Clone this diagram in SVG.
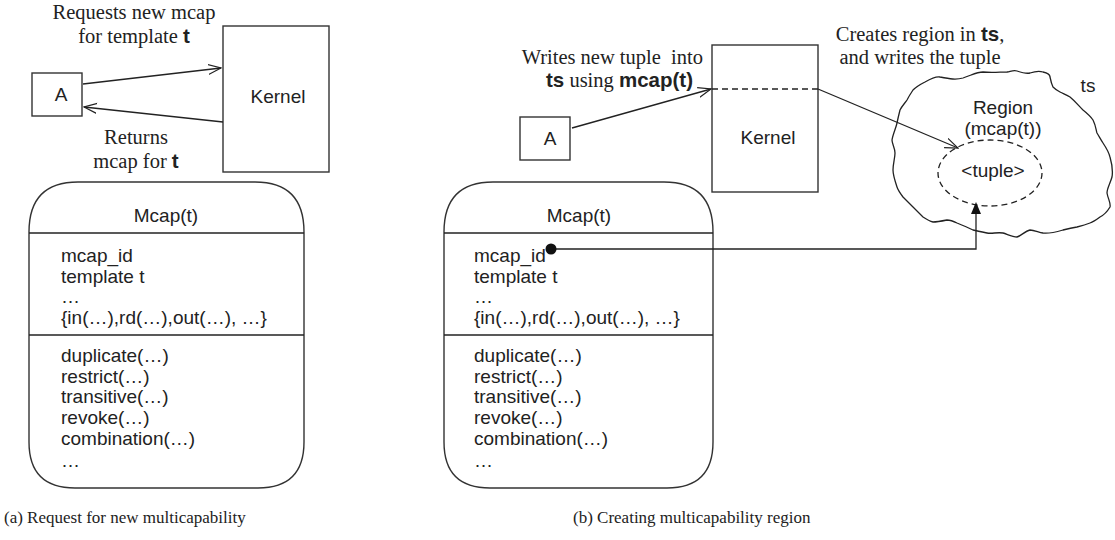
<svg xmlns="http://www.w3.org/2000/svg" width="1115" height="540" viewBox="0 0 1115 540">
<defs>
<marker id="open" viewBox="0 0 14 12" refX="13" refY="6" markerWidth="14" markerHeight="12" markerUnits="userSpaceOnUse" orient="auto">
<path d="M0,1 L13,6 L0,11" fill="none" stroke="#222" stroke-width="1.2"/>
</marker>
</defs>
<style>
.box{fill:#fff;stroke:#333;stroke-width:1.4}
.ln{fill:none;stroke:#222;stroke-width:1.3}
.sans{font-family:"Liberation Sans",Arial,sans-serif;font-size:19px;fill:#222}
.serif{font-family:"Liberation Serif","Times New Roman",serif;font-size:20.5px;fill:#222}
.cap{font-family:"Liberation Serif","Times New Roman",serif;font-size:17px;fill:#222}
.b{font-family:"Liberation Sans",Arial,sans-serif;font-weight:bold}
.dash{fill:none;stroke:#222;stroke-width:1.3;stroke-dasharray:6,4}
</style>

<!-- (a) -->
<g id="a-A">
<rect class="box" x="32" y="73" width="50" height="43"/>
<text class="sans" x="61" y="101" text-anchor="middle">A</text>
</g>
<g id="a-kernel">
<rect class="box" x="223" y="26" width="106" height="146"/>
<text class="sans" x="278" y="103" text-anchor="middle">Kernel</text>
</g>
<g id="a-mcap">
<path class="box" d="M78,182 L255,182 Q304,182 304,232 L304,442 Q304,488 258,488 L75,488 Q29,488 29,442 L29,232 Q29,182 78,182 Z"/>
<line class="ln" x1="29" y1="233" x2="304" y2="233"/>
<line class="ln" x1="29" y1="335" x2="304" y2="335"/>
<text class="sans" x="166" y="222" text-anchor="middle">Mcap(t)</text>
<text class="sans" x="61" y="262">mcap_id</text>
<text class="sans" x="61" y="283">template t</text>
<text class="sans" x="61" y="303">…</text>
<text class="sans" x="61" y="324">{in(…),rd(…),out(…), …}</text>
<text class="sans" x="61" y="362">duplicate(…)</text>
<text class="sans" x="61" y="383">restrict(…)</text>
<text class="sans" x="61" y="403">transitive(…)</text>
<text class="sans" x="61" y="424">revoke(…)</text>
<text class="sans" x="61" y="445">combination(…)</text>
<text class="sans" x="61" y="467">…</text>
</g>

<!-- (b) -->
<g id="b-A">
<rect class="box" x="520" y="117" width="50" height="43"/>
<text class="sans" x="550" y="145" text-anchor="middle">A</text>
</g>
<g id="b-kernel">
<rect class="box" x="712" y="45" width="106" height="147"/>
<line class="dash" x1="712" y1="89" x2="818" y2="89"/>
<text class="sans" x="768" y="144" text-anchor="middle">Kernel</text>
</g>
<g id="b-mcap">
<path class="box" d="M493,182 L664,182 Q713,182 713,232 L713,442 Q713,488 667,488 L490,488 Q444,488 444,442 L444,232 Q444,182 493,182 Z"/>
<line class="ln" x1="444" y1="233" x2="713" y2="233"/>
<line class="ln" x1="444" y1="335" x2="713" y2="335"/>
<text class="sans" x="579" y="222" text-anchor="middle">Mcap(t)</text>
<text class="sans" x="474" y="262">mcap_id</text>
<text class="sans" x="474" y="283">template t</text>
<text class="sans" x="474" y="303">…</text>
<text class="sans" x="474" y="324">{in(…),rd(…),out(…), …}</text>
<text class="sans" x="474" y="362">duplicate(…)</text>
<text class="sans" x="474" y="383">restrict(…)</text>
<text class="sans" x="474" y="403">transitive(…)</text>
<text class="sans" x="474" y="424">revoke(…)</text>
<text class="sans" x="474" y="445">combination(…)</text>
<text class="sans" x="474" y="467">…</text>
</g>
<g id="b-ts">
<path class="ln" d="M925,82 C932,78 936,76 940,77 C950,79 956,80 963,78 C972,75 977,72 983,72 C992,73 1000,72 1007,72 C1012,71 1014,70 1017,71 C1023,73 1026,74 1030,73 C1036,71 1040,71 1043,72 C1048,73 1050,75 1050,77 C1051,82 1052,85 1053,87 C1056,90 1058,91 1060,92 C1064,94 1067,95 1070,97 C1076,102 1079,106 1083,110 C1088,114 1091,117 1093,120 C1096,126 1096,130 1097,133 C1100,138 1101,140 1103,143 C1107,149 1109,153 1110,157 C1112,164 1113,171 1112,177 C1110,184 1107,188 1107,193 C1108,199 1111,203 1110,207 C1107,212 1104,215 1100,217 C1096,220 1093,222 1090,223 C1085,225 1081,226 1077,227 C1071,228 1067,229 1063,230 C1056,232 1049,234 1043,233 C1038,232 1034,230 1030,230 C1025,231 1021,236 1017,237 C1012,237 1007,234 1003,233 C997,232 992,234 987,233 C982,232 977,231 973,230 C967,227 962,225 957,223 C953,221 950,220 947,220 C942,221 937,222 933,222 C929,221 926,219 923,217 C919,213 916,210 913,207 C909,203 906,200 903,197 C900,193 898,190 897,187 C895,181 893,175 893,170 C893,164 895,158 895,153 C895,148 892,144 892,140 C893,134 896,128 897,123 C898,118 899,114 900,110 C902,106 905,103 907,100 C909,96 911,93 913,90 C917,86 921,84 925,82 Z"/>
<text class="sans" x="1088" y="92" text-anchor="middle">ts</text>
</g>
<g id="b-region">
<text class="sans" x="1003" y="114" text-anchor="middle">Region</text>
<text class="sans" x="1003" y="135" text-anchor="middle">(mcap(t))</text>
<ellipse class="dash" cx="990" cy="173" rx="52" ry="33" stroke-dasharray="9,5"/>
<text class="sans" x="993" y="177" text-anchor="middle">&lt;tuple&gt;</text>
</g>

<g id="connectors">
<line class="ln" x1="83" y1="84" x2="221" y2="68" marker-end="url(#open)"/>
<line class="ln" x1="223" y1="122" x2="84" y2="107" marker-end="url(#open)"/>
<line class="ln" x1="572" y1="128" x2="711" y2="89" marker-end="url(#open)"/>
<line class="ln" x1="818" y1="89" x2="958" y2="148" marker-end="url(#open)"/>
<polyline class="ln" points="551,249 976,249 976,212"/>
<path d="M976,202 L981,214 L971,214 Z" fill="#111"/>
<circle cx="551" cy="249" r="5.5" fill="#111"/>
</g>

<g id="labels">
<text class="serif" x="134" y="19" text-anchor="middle">Requests new mcap</text>
<text class="serif" x="134" y="43" text-anchor="middle">for template <tspan class="b">t</tspan></text>
<text class="serif" x="136" y="144" text-anchor="middle">Returns</text>
<text class="serif" x="136" y="168" text-anchor="middle">mcap for <tspan class="b">t</tspan></text>
<text class="serif" x="703" y="64" text-anchor="end" xml:space="preserve">Writes new tuple  into</text>
<text class="serif" x="693" y="87" text-anchor="end"><tspan class="b">ts</tspan> using <tspan class="b">mcap(t)</tspan></text>
<text class="serif" x="920" y="41" text-anchor="middle">Creates region in <tspan class="b">ts</tspan>,</text>
<text class="serif" x="920" y="64" text-anchor="middle">and writes the tuple</text>
<text class="cap" x="4" y="523">(a) Request for new multicapability</text>
<text class="cap" x="573" y="523">(b) Creating multicapability region</text>
</g>
</svg>
